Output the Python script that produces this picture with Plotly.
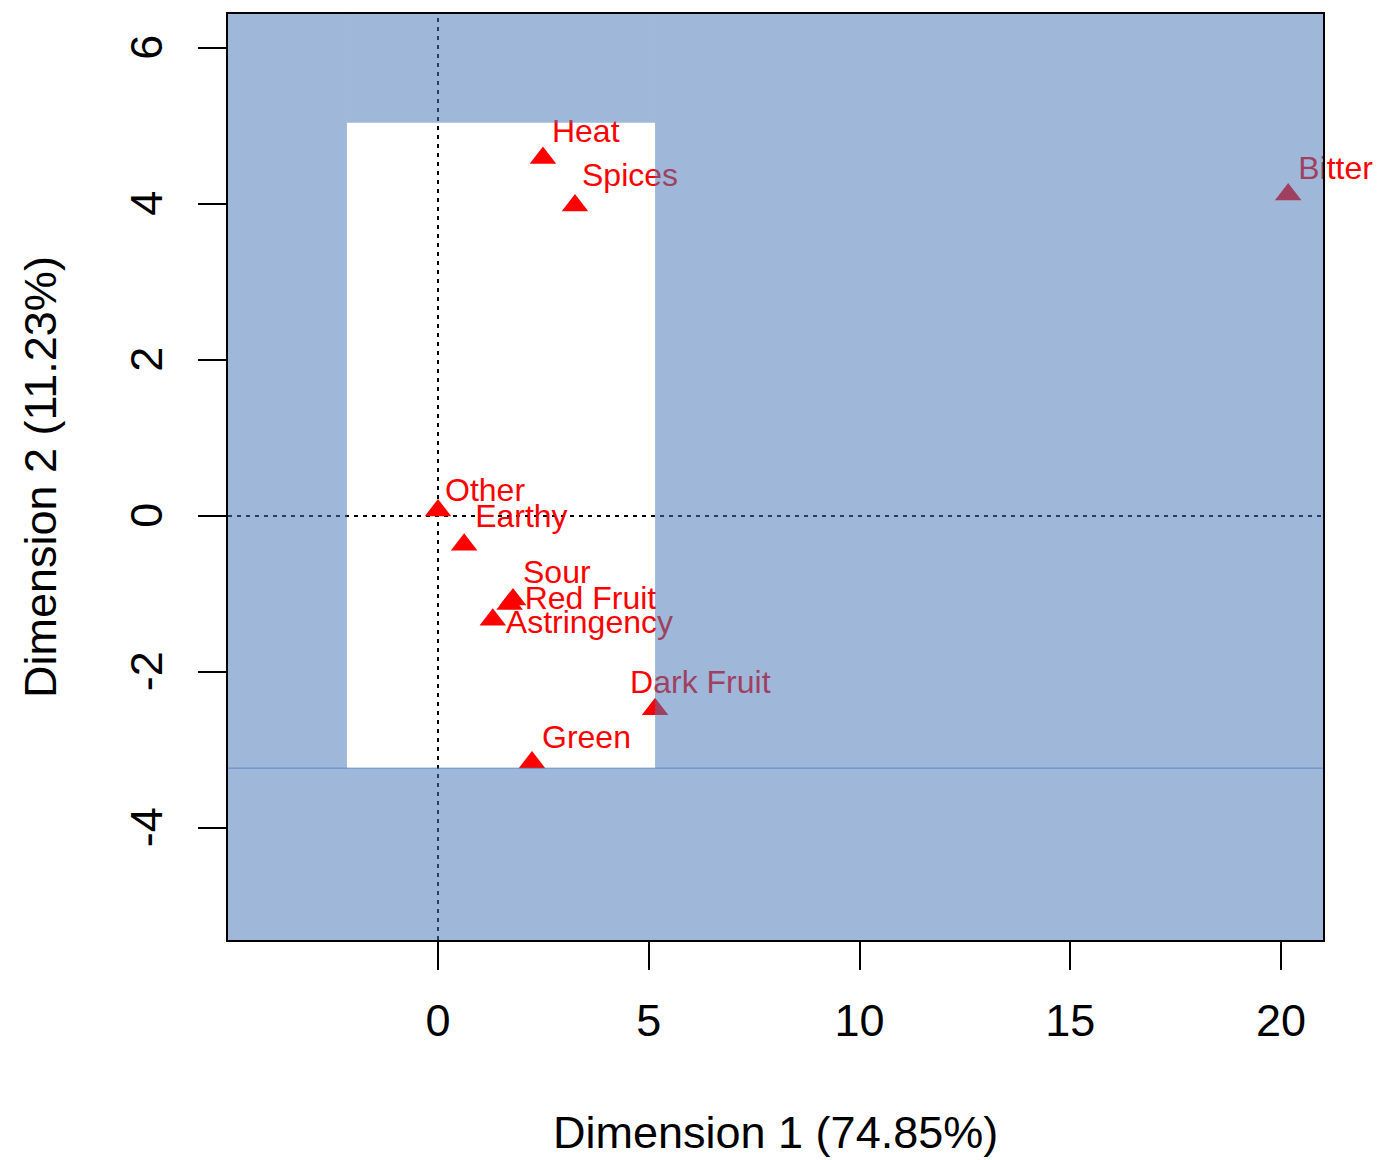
import plotly.graph_objects as go

# Correspondence analysis: column coordinates on the first two dimensions
categories = ["Heat", "Spices", "Bitter", "Other", "Earthy", "Sour",
              "Red Fruit", "Astringency", "Dark Fruit", "Green"]
dim1 = [2.49, 3.25, 20.17, 0.00, 0.62, 1.78, 1.70, 1.30, 5.15, 2.23]
dim2 = [4.59, 3.98, 4.12, 0.07, -0.37, -1.07, -1.13, -1.33, -2.48, -3.16]

# Label placement relative to each point, in pixels (right, down)
label_dx = [9, 7, 10, 7, 11, 10, 15, 13, -25, 10]
label_dy = [-24, -28, -24, -18, -26, -24, -3, 5, -24, -22]

x_ticks = [0, 5, 10, 15, 20]
x_tick_text = ["0", "5", "10", "15", "20"]
y_ticks = [-4, -2, 0, 2, 4, 6]
y_tick_text = ["-4", "-2", "0", "2", "4", "6"]
x_title = "Dimension 1 (74.85%)"
y_title = "Dimension 2 (11.23%)"

# Highlighted window (left uncovered by the shading)
window_x = [-2.16, 5.15]
window_y = [-3.235, 5.04]

X_RANGE = [-4.982, 20.996]
Y_RANGE = [-5.437, 6.435]

W, H = 1383, 1160
M_L, M_R, M_T, M_B = 228, 60, 12, 220
plot_w = W - M_L - M_R
plot_h = H - M_T - M_B
px_x = plot_w / (X_RANGE[1] - X_RANGE[0])
px_y = plot_h / (Y_RANGE[1] - Y_RANGE[0])

FONT = "Liberation Sans, Arial, sans-serif"
RED = "#FF0000"
SHADE = "rgba(74,121,183,0.53)"

label_x = [x + dx / px_x for x, dx in zip(dim1, label_dx)]
label_y = [y - dy / px_y for y, dy in zip(dim2, label_dy)]

fig = go.Figure()

fig.add_trace(go.Scatter(
    x=dim1, y=dim2, mode="markers",
    marker=dict(symbol="triangle-up", size=23, color=RED, line=dict(width=0)),
    hoverinfo="text", text=categories, showlegend=False,
))
fig.add_trace(go.Scatter(
    x=label_x, y=label_y, mode="text", text=categories,
    textposition="middle right",
    textfont=dict(family=FONT, size=32, color=RED),
    cliponaxis=False, hoverinfo="skip", showlegend=False,
))

shapes = []
# origin reference lines
for kw in (dict(x0=0, x1=0, y0=Y_RANGE[0], y1=Y_RANGE[1]),
           dict(x0=X_RANGE[0], x1=X_RANGE[1], y0=0, y1=0)):
    shapes.append(dict(type="line", xref="x", yref="y", layer="below",
                       line=dict(color="black", width=2, dash="4px,5px"), **kw))

# translucent shading around the window
rects = [
    (X_RANGE[0], X_RANGE[1], Y_RANGE[0], window_y[0]),
    (X_RANGE[0], window_x[0], window_y[0], Y_RANGE[1]),
    (window_x[1], X_RANGE[1], window_y[0], Y_RANGE[1]),
    (window_x[0], window_x[1], window_y[1], Y_RANGE[1]),
]
for x0, x1, y0, y1 in rects:
    shapes.append(dict(type="rect", xref="x", yref="y", layer="above",
                       x0=x0, x1=x1, y0=y0, y1=y1,
                       fillcolor=SHADE, line=dict(width=0)))
shapes.append(dict(type="line", xref="x", yref="y", layer="above",
                   x0=X_RANGE[0], x1=X_RANGE[1], y0=window_y[0], y1=window_y[0],
                   line=dict(color=SHADE, width=1.5)))

axis_common = dict(
    showgrid=False, zeroline=False,
    showline=True, mirror=True, linecolor="black", linewidth=2,
    ticks="outside", ticklen=28, tickwidth=2, tickcolor="black",
    tickfont=dict(family=FONT, size=45, color="black"),
)

fig.update_layout(
    width=W, height=H,
    margin=dict(l=M_L, r=M_R, t=M_T, b=M_B),
    paper_bgcolor="white", plot_bgcolor="white",
    shapes=shapes,
    xaxis=dict(range=X_RANGE, tickvals=x_ticks, ticktext=x_tick_text,
               ticklabelstandoff=12, **axis_common),
    yaxis=dict(range=Y_RANGE, tickvals=y_ticks, ticktext=y_tick_text,
               tickangle=-90, ticklabelstandoff=18, ticklabelshift=6,
               **axis_common),
    annotations=[
        dict(text=x_title, xref="paper", yref="paper", x=0.5, y=0,
             xanchor="center", yanchor="middle", yshift=-192, showarrow=False,
             font=dict(family=FONT, size=45, color="black")),
        dict(text=y_title, xref="paper", yref="paper", x=0, y=0.5,
             xanchor="center", yanchor="middle", xshift=-188, textangle=-90,
             showarrow=False, font=dict(family=FONT, size=45, color="black")),
    ],
)

fig.write_html("out.html")
